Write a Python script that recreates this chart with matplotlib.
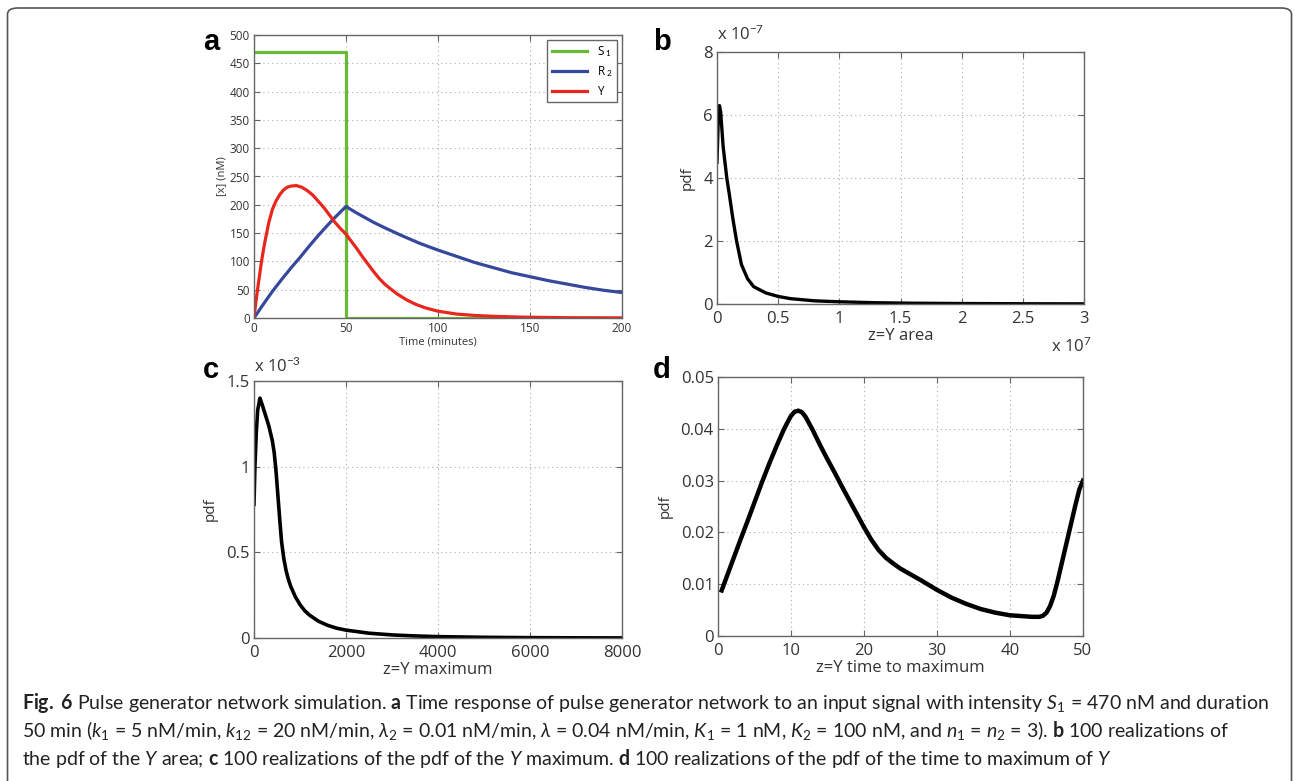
import matplotlib
matplotlib.use('Agg')
import matplotlib.pyplot as plt
from matplotlib.patches import FancyBboxPatch
from matplotlib.ticker import FuncFormatter

# panel a: time response
t_s1 = [0, 50, 50, 200]
s1 = [470, 470, 0, 0]
t_r2 = [0, 5, 10, 15, 20, 25, 30, 35, 40, 45, 50, 55, 60, 65, 70, 80, 90, 100, 110, 120, 130, 140, 150,
        160, 170, 180, 190, 200]
r2 = [0, 24, 47, 68, 88, 107, 127, 146, 164, 181, 197, 187, 178, 169, 161, 146, 132, 120, 109, 98, 89, 80,
      73, 66, 60, 54, 49, 45]
t_y = [0, 1, 2, 3, 4, 5, 6, 7, 8, 10, 12, 14, 16, 18, 20, 23, 26, 29, 32, 35, 38, 41, 44, 47, 50, 53, 56,
       59, 62, 65, 68, 71, 74, 78, 83, 88, 93, 100, 110, 120, 130, 146, 170, 200]
y = [0, 28, 52, 75, 98, 118, 136, 152, 168, 192, 207, 218, 226, 231, 233, 234, 231, 225, 217, 206, 195,
     182, 169, 158, 148, 135, 122, 108, 95, 82, 70, 60, 52, 42, 32, 24, 18, 12, 7, 4.5, 3, 1.5, 0.5, 0.2]

# panel b: pdf of Y area
area = [0, 0.01e7, 0.02e7, 0.03e7, 0.05e7, 0.08e7, 0.1e7, 0.13e7, 0.16e7, 0.2e7, 0.25e7, 0.3e7,
        0.4e7, 0.5e7, 0.6e7, 0.8e7, 1.0e7, 1.3e7, 1.6e7, 2.0e7, 2.5e7, 3.0e7]
pdf_area = [4.5e-7, 5.8e-7, 6.3e-7, 6.1e-7, 5.0e-7, 4.0e-7, 3.5e-7, 2.7e-7, 2.0e-7, 1.25e-7, 0.8e-7, 0.55e-7,
            0.35e-7, 0.24e-7, 0.17e-7, 0.10e-7, 0.07e-7, 0.04e-7, 0.025e-7, 0.015e-7, 0.008e-7, 0.005e-7]

# panel c: pdf of Y maximum
ymax = [0, 20, 50, 80, 130, 180, 250, 320, 400, 440, 480, 520, 560, 600, 650, 700, 750, 800, 900, 1000,
        1100, 1200, 1400, 1600, 1800, 2000, 2500, 3000, 3500, 4000, 5000, 6000, 7000, 8000]
pdf_max = [0.78e-3, 1.0e-3, 1.2e-3, 1.33e-3, 1.40e-3, 1.36e-3, 1.30e-3, 1.24e-3, 1.15e-3, 1.08e-3, 0.97e-3,
           0.83e-3, 0.69e-3, 0.56e-3, 0.46e-3, 0.39e-3, 0.34e-3, 0.30e-3, 0.24e-3, 0.195e-3, 0.16e-3,
           0.135e-3, 0.098e-3, 0.074e-3, 0.057e-3, 0.046e-3, 0.028e-3, 0.018e-3, 0.012e-3, 0.008e-3,
           0.004e-3, 0.002e-3, 0.001e-3, 0.0005e-3]

# panel d: pdf of time to maximum
tmax = [0.5, 1, 2, 3, 4, 5, 6, 7, 8, 9, 9.5, 10, 10.5, 11, 11.5, 12, 13, 14, 15, 16, 17, 18, 19, 20, 21,
        22, 23, 24, 25, 26, 27, 28, 30, 32, 34, 36, 38, 40, 42, 43, 44, 44.5, 45, 45.5, 46, 46.5, 47, 47.5,
        48, 48.5, 49, 49.5, 50]
pdf_tmax = [0.0088, 0.0107, 0.0145, 0.0183, 0.0220, 0.0258, 0.0296, 0.0332, 0.0366, 0.0398, 0.0412, 0.0425,
            0.0433, 0.0435, 0.0432, 0.0423, 0.0397, 0.0368, 0.0341, 0.0315, 0.0288, 0.0262, 0.0236, 0.0210,
            0.0186, 0.0166, 0.0151, 0.0140, 0.0130, 0.0122, 0.0114, 0.0106, 0.0089, 0.0074, 0.0062, 0.0052,
            0.0045, 0.0040, 0.0038, 0.0037, 0.0037, 0.0039, 0.0045, 0.0058, 0.0078, 0.0105, 0.0135, 0.0165,
            0.0195, 0.0225, 0.0255, 0.0283, 0.0300]

CAP_FONT = 'Lato'
plt.rcParams['font.family'] = ['Open Sans', 'DejaVu Sans']
plt.rcParams['mathtext.fontset'] = 'custom'
plt.rcParams['mathtext.rm'] = CAP_FONT
plt.rcParams['mathtext.it'] = CAP_FONT + ':italic'
plt.rcParams['mathtext.bf'] = CAP_FONT + ':bold'

W, H = 1294, 781
fig = plt.figure(figsize=(W / 100, H / 100), dpi=100)

# rounded frame around the figure
frame = FancyBboxPatch((7.5 / W, -20 / H), 1284 / W, 793 / H,
                       boxstyle='round,pad=0,rounding_size=0.008',
                       transform=fig.transFigure, fill=False, ec='#555555', lw=1.2)
fig.patches.append(frame)

SPINE = '#666666'
TICKC = '#333333'


def box_axes(rect, fs, pad):
    ax = fig.add_axes([rect[0] / W, 1 - rect[3] / H, (rect[2] - rect[0]) / W, (rect[3] - rect[1]) / H])
    for s in ax.spines.values():
        s.set_color(SPINE)
        s.set_linewidth(1.0)
    ax.tick_params(direction='in', top=True, right=True, length=4, width=0.8, color=SPINE,
                   labelsize=fs, labelcolor=TICKC, pad=3)
    ax.tick_params(axis='x', pad=pad)
    ax.grid(True, linestyle=(0, (1, 3)), color='#aaaaaa', lw=0.8)
    ax.set_axisbelow(True)
    return ax


# a
ax = box_axes((254, 35, 622, 318), 8.5, 3)
ax.plot(t_s1, s1, color='#66bb33', lw=2.3, label=r'S$_{\ 1}$')
ax.plot(t_r2, r2, color='#36489c', lw=2.3, label=r'R$_{\ 2}$')
ax.plot(t_y, y, color='#e8261e', lw=2.3, label='Y')
ax.set_xlim(0, 200)
ax.set_ylim(0, 500)
ax.set_xticks([0, 50, 100, 150, 200])
ax.set_yticks(range(0, 501, 50))
ax.set_xlabel('Time (minutes)', fontsize=8, color=TICKC, labelpad=1)
ax.set_ylabel('[x] (nM)', fontsize=8, color=TICKC, labelpad=2)
leg = ax.legend(loc='upper right', fontsize=8.5, handlelength=3.0, borderpad=0.4, labelspacing=0.45,
                fancybox=False, edgecolor=SPINE, framealpha=1, borderaxespad=0.4)
leg.get_frame().set_linewidth(1.0)

# b
ax = box_axes((717, 52, 1084, 304), 12, 5)
ax.plot(area, pdf_area, color='black', lw=2.4)
ax.set_xlim(0, 3e7)
ax.set_ylim(0, 8e-7)
ax.set_xticks([0, 0.5e7, 1e7, 1.5e7, 2e7, 2.5e7, 3e7])
ax.set_yticks([0, 2e-7, 4e-7, 6e-7, 8e-7])
ax.xaxis.set_major_formatter(FuncFormatter(lambda v, p: '%g' % (v / 1e7)))
ax.yaxis.set_major_formatter(FuncFormatter(lambda v, p: '%g' % (v / 1e-7)))
ax.set_xlabel('z=Y area', fontsize=12, color=TICKC, labelpad=1)
ax.set_ylabel('pdf', fontsize=11, color=TICKC, labelpad=6)
ax.text(0.0, 1.03, r'x 10$^{-7}$', transform=ax.transAxes, fontsize=12, color=TICKC, va='bottom')
ax.text(1.02, -0.13, r'x 10$^{7}$', transform=ax.transAxes, fontsize=12, color=TICKC, ha='right', va='top')

# c
ax = box_axes((254, 381, 622, 638), 12, 5)
ax.plot(ymax, pdf_max, color='black', lw=2.6)
ax.set_xlim(0, 8000)
ax.set_ylim(0, 1.5e-3)
ax.set_xticks([0, 2000, 4000, 6000, 8000])
ax.set_yticks([0, 0.5e-3, 1e-3, 1.5e-3])
ax.yaxis.set_major_formatter(FuncFormatter(lambda v, p: '%g' % (v / 1e-3)))
ax.set_xlabel('z=Y maximum', fontsize=12, color=TICKC, labelpad=1)
ax.set_ylabel('pdf', fontsize=11, color=TICKC, labelpad=6)
ax.text(0.0, 1.02, r'x 10$^{-3}$', transform=ax.transAxes, fontsize=12, color=TICKC, va='bottom')

# d
ax = box_axes((718, 377, 1083, 636), 12, 5)
ax.plot(tmax, pdf_tmax, color='black', lw=3.2)
ax.set_xlim(0, 50)
ax.set_ylim(0, 0.05)
ax.set_xticks([0, 10, 20, 30, 40, 50])
ax.set_yticks([0, 0.01, 0.02, 0.03, 0.04, 0.05])
ax.yaxis.set_major_formatter(FuncFormatter(lambda v, p: '%g' % v))
ax.set_xlabel('z=Y time to maximum', fontsize=12, color=TICKC, labelpad=1)
ax.set_ylabel('pdf', fontsize=11, color=TICKC, labelpad=6)

# panel letters
for letter, px, py in [('a', 203, 42), ('b', 653, 42), ('c', 203, 370), ('d', 653, 370)]:
    fig.text(px / W, 1 - py / H, letter, fontsize=21, fontweight='bold', family='Liberation Sans',
             va='center', ha='left')

# caption
lines = [
    r'$\mathbf{Fig.}$ $\mathbf{6}$ Pulse generator network simulation. $\mathbf{a}$ Time response of pulse generator '
    r'network to an input signal with intensity $S_1$ = 470 nM and duration',
    r'50 min ($k_1$ = 5 nM/min, $k_{12}$ = 20 nM/min, $\lambda_2$ = 0.01 nM/min, $\lambda$ = 0.04 nM/min, '
    r'$K_1$ = 1 nM, $K_2$ = 100 nM, and $n_1$ = $n_2$ = 3). $\mathbf{b}$ 100 realizations of',
    r'the pdf of the $Y$ area; $\mathbf{c}$ 100 realizations of the pdf of the $Y$ maximum. '
    r'$\mathbf{d}$ 100 realizations of the pdf of the time to maximum of $Y$',
]
texts = []
for i, s in enumerate(lines):
    texts.append(fig.text(22 / W, 1 - (703 + 28 * i) / H, s, fontsize=11, color='#222222',
                          va='center', ha='left', family=CAP_FONT))
r = fig.canvas.get_renderer()
w0 = texts[0].get_window_extent(r).width
scale = 1247 / w0
for t in texts:
    t.set_fontsize(11 * scale)

fig.savefig('out.png', dpi=100)
